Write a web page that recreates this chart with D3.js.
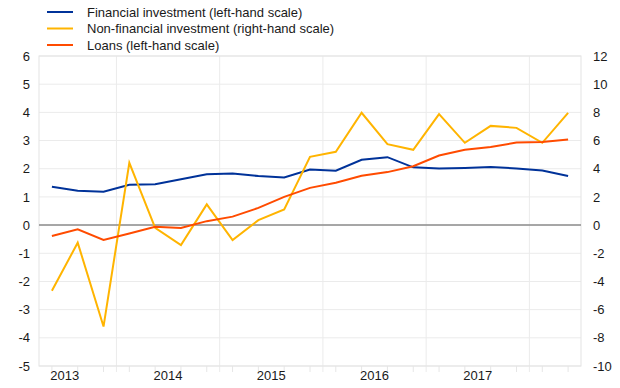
<!DOCTYPE html>
<html>
<head>
<meta charset="utf-8">
<script src="https://cdn.jsdelivr.net/npm/d3@7.9.0/dist/d3.min.js"></script>
<style>
  body { margin: 0; background: #fff; }
  svg { display: block; font-family: "Liberation Sans", Arial, sans-serif; }
</style>
</head>
<body>
<div id="chart"></div>
<script>
const quarters = [
  "2013Q2", "2013Q3", "2013Q4",
  "2014Q1", "2014Q2", "2014Q3", "2014Q4",
  "2015Q1", "2015Q2", "2015Q3", "2015Q4",
  "2016Q1", "2016Q2", "2016Q3", "2016Q4",
  "2017Q1", "2017Q2", "2017Q3", "2017Q4",
  "2018Q1", "2018Q2"
];

// left-hand scale
const financial = [1.36, 1.22, 1.18, 1.43, 1.45, 1.63, 1.80, 1.83, 1.74, 1.69, 1.97,
  1.93, 2.32, 2.41, 2.05, 2.01, 2.03, 2.06, 2.01, 1.94, 1.74];
// right-hand scale
const nonFinancial = [-4.66, -1.25, -7.2, 4.42, -0.19, -1.42, 1.47, -1.06, 0.35, 1.11, 4.84,
  5.2, 7.97, 5.74, 5.34, 7.87, 5.84, 7.04, 6.9, 5.84, 7.97];
// left-hand scale
const loans = [-0.39, -0.15, -0.53, -0.3, -0.06, -0.1, 0.14, 0.3, 0.61, 1.0, 1.32,
  1.5, 1.75, 1.88, 2.09, 2.47, 2.67, 2.77, 2.93, 2.95, 3.04];

const leftTicks = [-5, -4, -3, -2, -1, 0, 1, 2, 3, 4, 5, 6];
const rightTicks = [-10, -8, -6, -4, -2, 0, 2, 4, 6, 8, 10, 12];

const series = [
  { name: "Financial investment (left-hand scale)", values: financial, axis: "left", color: "#003299" },
  { name: "Non-financial investment (right-hand scale)", values: nonFinancial, axis: "right", color: "#ffb400" },
  { name: "Loans (left-hand scale)", values: loans, axis: "left", color: "#ff4b00" }
];

const width = 620, height = 388;
const margin = { top: 56, right: 39, bottom: 22, left: 39 };

const svg = d3.select("#chart").append("svg")
  .attr("width", width)
  .attr("height", height);

const x = d3.scaleBand()
  .domain(quarters)
  .range([margin.left, width - margin.right])
  .padding(0);

const yLeft = d3.scaleLinear().domain([-5, 6]).range([height - margin.bottom, margin.top]);
const yRight = d3.scaleLinear().domain([-10, 12]).range([height - margin.bottom, margin.top]);

const cx = (q) => x(q) + x.bandwidth() / 2;

// horizontal gridlines
svg.append("g")
  .selectAll("line")
  .data(leftTicks)
  .join("line")
  .attr("x1", margin.left)
  .attr("x2", width - margin.right)
  .attr("y1", (d) => yLeft(d))
  .attr("y2", (d) => yLeft(d))
  .attr("stroke", "#ebebeb")
  .attr("stroke-width", 1);

// year boundaries (before each Q1)
const yearStarts = quarters.filter((q) => q.endsWith("Q1"));
svg.append("g")
  .selectAll("line")
  .data(yearStarts)
  .join("line")
  .attr("x1", (d) => x(d))
  .attr("x2", (d) => x(d))
  .attr("y1", margin.top)
  .attr("y2", height - margin.bottom + 6)
  .attr("stroke", "#ebebeb")
  .attr("stroke-width", 1);

// minor ticks at each quarter
svg.append("g")
  .selectAll("line")
  .data(quarters)
  .join("line")
  .attr("x1", (d) => cx(d))
  .attr("x2", (d) => cx(d))
  .attr("y1", height - margin.bottom)
  .attr("y2", height - margin.bottom + 6)
  .attr("stroke", "#e6e6e6")
  .attr("stroke-width", 1);

// plot frame
svg.append("rect")
  .attr("x", margin.left)
  .attr("y", margin.top)
  .attr("width", width - margin.left - margin.right)
  .attr("height", height - margin.top - margin.bottom)
  .attr("fill", "none")
  .attr("stroke", "#e3e3e3")
  .attr("stroke-width", 1);

// zero line
svg.append("line")
  .attr("x1", margin.left)
  .attr("x2", width - margin.right)
  .attr("y1", yLeft(0))
  .attr("y2", yLeft(0))
  .attr("stroke", "#8c8c8c")
  .attr("stroke-width", 1.5);

// left axis labels
const leftAxis = d3.axisLeft(yLeft).tickValues(leftTicks).tickFormat((d) => String(d))
  .tickSize(0).tickPadding(9);
svg.append("g")
  .attr("transform", `translate(${margin.left},0)`)
  .call(leftAxis)
  .call((g) => g.select(".domain").remove())
  .selectAll("text")
  .attr("font-size", 13)
  .attr("font-family", "Liberation Sans, Arial, sans-serif")
  .attr("fill", "#1a1a1a");

// right axis labels
const rightAxis = d3.axisRight(yRight).tickValues(rightTicks).tickFormat((d) => String(d))
  .tickSize(0).tickPadding(12);
svg.append("g")
  .attr("transform", `translate(${width - margin.right},0)`)
  .call(rightAxis)
  .call((g) => g.select(".domain").remove())
  .selectAll("text")
  .attr("font-size", 13)
  .attr("font-family", "Liberation Sans, Arial, sans-serif")
  .attr("fill", "#1a1a1a");

// year labels, centred on each year's four quarters (start of Q3)
const yearMid = quarters.filter((q) => q.endsWith("Q3"));
svg.append("g")
  .selectAll("text")
  .data(yearMid)
  .join("text")
  .attr("x", (d) => x(d))
  .attr("y", height - 8)
  .attr("text-anchor", "middle")
  .attr("font-size", 13)
  .attr("fill", "#1a1a1a")
  .text((d) => d.slice(0, 4));

// lines
for (const s of series) {
  const y = s.axis === "left" ? yLeft : yRight;
  const line = d3.line()
    .x((d, i) => cx(quarters[i]))
    .y((d) => y(d));
  svg.append("path")
    .datum(s.values)
    .attr("fill", "none")
    .attr("stroke", s.color)
    .attr("stroke-width", 2)
    .attr("stroke-linejoin", "miter")
    .attr("d", line);
}

// legend
const legend = svg.append("g")
  .selectAll("g")
  .data(series)
  .join("g")
  .attr("transform", (d, i) => `translate(0, ${12 + i * 16.5})`);

legend.append("line")
  .attr("x1", 47)
  .attr("x2", 73)
  .attr("stroke", (d) => d.color)
  .attr("stroke-width", 2);

legend.append("text")
  .attr("x", 87)
  .attr("dy", "0.35em")
  .attr("font-size", 13)
  .attr("fill", "#1a1a1a")
  .text((d) => d.name);
</script>
</body>
</html>
